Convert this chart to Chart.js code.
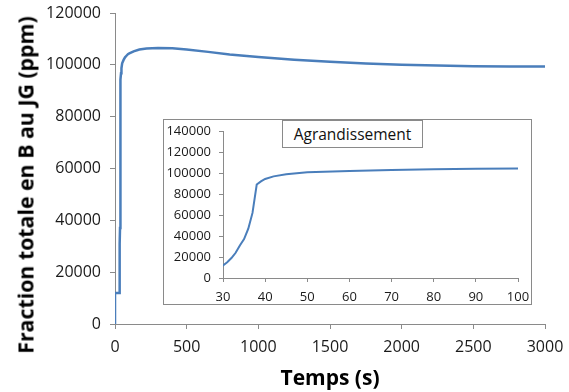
<!DOCTYPE html>
<html>
<head>
<meta charset="utf-8">
<script src="https://cdn.jsdelivr.net/npm/chart.js@4/dist/chart.umd.min.js"></script>
<style>
    body { margin: 0; background: #fff; }
    #wrap { position: relative; width: 569px; height: 392px; }
    #main { position: absolute; left: 0; top: 0; }
    #yTitle {
        position: absolute; left: 25px; top: 185px;
        transform: translate(-50%, -50%) rotate(-90deg);
        white-space: nowrap;
        font-family: "Open Sans", sans-serif; font-weight: bold; font-size: 21.3px; color: #000;
    }
    #insetBox { position: absolute; left: 163px; top: 119px; width: 367px; height: 184px; border: 1px solid #8a8a8a; background: #fff; }
    #inset { position: absolute; left: 0; top: 0; }
    #insetTitle {
        position: absolute; left: 118px; top: 0px; width: 139px; height: 26px;
        border: 1px solid #8a8a8a; background: #fff;
        font-family: "Open Sans", sans-serif; font-size: 15.5px; color: #111;
        text-align: center; line-height: 26px;
    }
</style>
</head>
<body>
<div id="wrap">
    <canvas id="main" width="569" height="392"></canvas>
    <div id="yTitle">Fraction totale en B au JG (ppm)</div>
    <div id="insetBox">
        <canvas id="inset" width="367" height="184"></canvas>
        <div id="insetTitle">Agrandissement</div>
    </div>
</div>
<script>
// temps (s) et fraction totale en B au JG (ppm)
const temps = [0, 0, 30, 31, 32, 33, 34, 35, 36, 37, 38, 39, 40, 42, 45, 50, 60, 70, 80, 90, 100,
    130, 170, 220, 300, 400, 500, 650, 800, 1000, 1250, 1500, 1750, 2000, 2250, 2500, 2750, 3000];
const fraction = [0, 12000, 12000, 15000, 19000, 24000, 31000, 37000, 47000, 62000, 89000, 92000, 94300, 96800, 98700, 100600, 101900, 102900, 103500, 104100, 104400,
    105200, 105900, 106300, 106500, 106400, 105900, 105000, 104000, 103000, 102000, 101200, 100500, 100000, 99700, 99500, 99400, 99400];

const ticksTempsMain = [0, 500, 1000, 1500, 2000, 2500, 3000];
const ticksFractionMain = [0, 20000, 40000, 60000, 80000, 100000, 120000];
const ticksTempsInset = [30, 40, 50, 60, 70, 80, 90, 100];
const ticksFractionInset = [0, 20000, 40000, 60000, 80000, 100000, 120000, 140000];

const points = temps.map((t, i) => ({ x: t, y: fraction[i] }));
const bleu = "#4a7ebb";
const gris = "#8a8a8a";

function axe(ticks, fontSize, pad, tickLen, taille) {
    return {
        type: "linear",
        min: ticks[0],
        max: ticks[ticks.length - 1],
        afterBuildTicks: function (s) { s.ticks = ticks.map(v => ({ value: v })); },
        afterFit: function (s) {
            if (s.isHorizontal()) { s.height = taille; } else { s.width = taille; }
            s.paddingTop = 0; s.paddingBottom = 0; s.paddingLeft = 0; s.paddingRight = 0;
        },
        ticks: {
            color: "#1a1a1a",
            padding: pad,
            font: { family: "Open Sans", size: fontSize },
            callback: v => String(v)
        },
        grid: { display: true, drawOnChartArea: false, tickLength: tickLen, color: gris },
        border: { color: gris, width: 1 }
    };
}

const mainX = axe(ticksTempsMain, 16, 9, 5, 68);
mainX.title = { display: true, text: "Temps (s)", color: "#000", padding: { top: 0, bottom: 0 },
    font: { family: "Open Sans", size: 21, weight: "bold" } };
const mainY = axe(ticksFractionMain, 16, 9, 5, 115);

new Chart(document.getElementById("main"), {
    type: "line",
    data: {
        datasets: [{
            data: points,
            borderColor: bleu,
            borderWidth: 2.5,
            pointRadius: 0,
            tension: 0,
            fill: false
        }]
    },
    options: {
        responsive: false,
        animation: false,
        layout: { padding: { top: 13, right: 24, left: 0, bottom: 0 } },
        plugins: { legend: { display: false }, tooltip: { enabled: false } },
        scales: { x: mainX, y: mainY }
    }
});

const insetX = axe(ticksTempsInset, 13, 7, 4, 26);
const insetY = axe(ticksFractionInset, 13, 8, 4, 59);

new Chart(document.getElementById("inset"), {
    type: "line",
    data: {
        datasets: [{
            data: points,
            borderColor: bleu,
            borderWidth: 2,
            pointRadius: 0,
            tension: 0,
            fill: false
        }]
    },
    options: {
        responsive: false,
        animation: false,
        layout: { padding: { top: 11, right: 13, left: 0, bottom: 0 } },
        plugins: { legend: { display: false }, tooltip: { enabled: false } },
        scales: { x: insetX, y: insetY }
    }
});
</script>
</body>
</html>
